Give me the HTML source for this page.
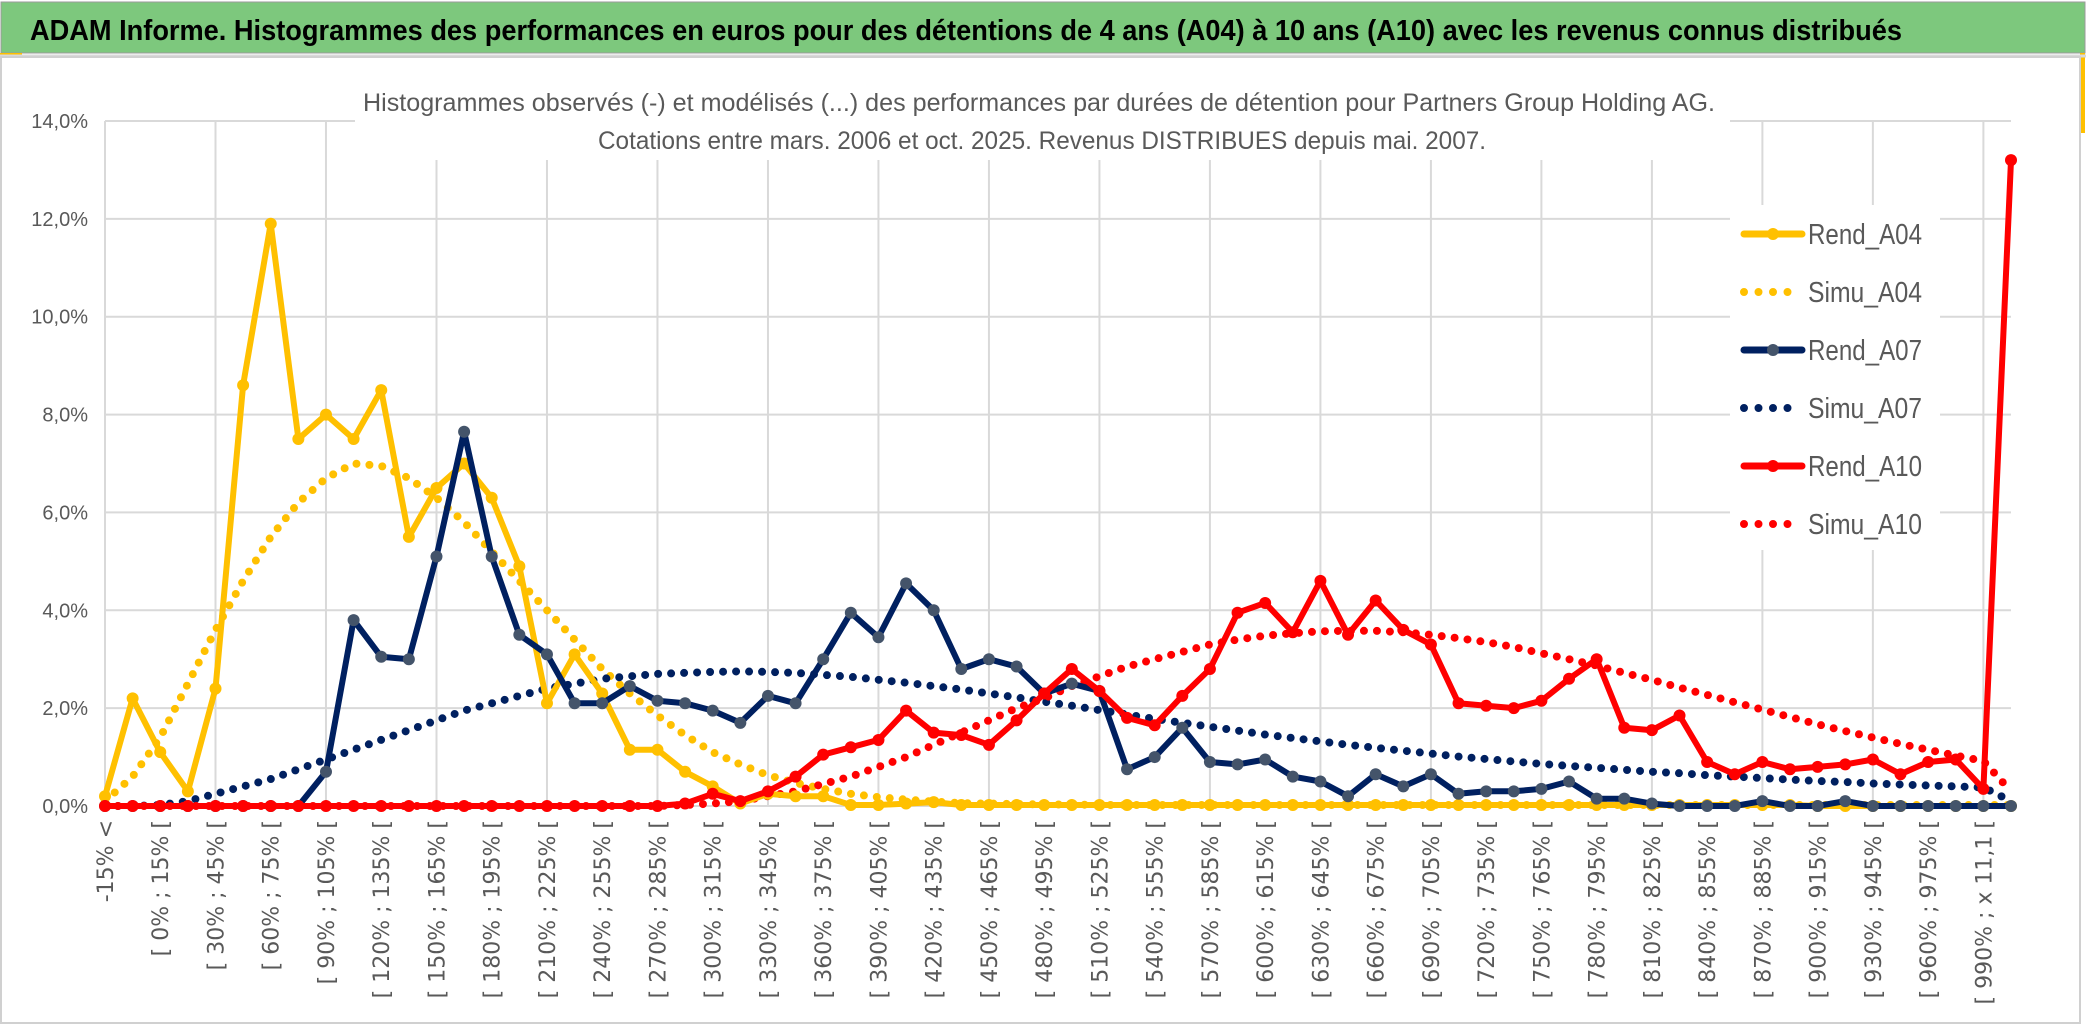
<!DOCTYPE html>
<html><head><meta charset="utf-8"><style>
html,body{margin:0;padding:0;background:#fff;}
svg{display:block;}
</style></head><body>
<svg id="chart" width="2086" height="1033" xmlns="http://www.w3.org/2000/svg">
<rect x="0" y="0" width="2086" height="1033" fill="#fff"/>
<rect x="1" y="2" width="2084" height="51" fill="#7dc87d" stroke="#9a9a9a" stroke-width="1"/>
<text x="30" y="40" font-family="'Liberation Sans Narrow','Liberation Sans',sans-serif" font-weight="bold" font-size="29" fill="#000" textLength="1872" lengthAdjust="spacingAndGlyphs">ADAM Informe. Histogrammes des performances en euros pour des détentions de 4 ans (A04) à 10 ans (A10) avec les revenus connus distribués</text>
<rect x="0" y="53" width="22" height="4" fill="#ffc000"/>
<rect x="2080" y="53" width="5" height="80" fill="#ffc000"/>
<line x1="0" y1="56" x2="2086" y2="56" stroke="#d9d9d9" stroke-width="3"/>
<rect x="1" y="57" width="2079" height="966" fill="none" stroke="#d0d0d0" stroke-width="2"/>
<g id="grid"></g>
<g id="series"></g>
<rect x="355" y="80" width="1375" height="80" fill="#fff"/>
<text x="1039" y="111" text-anchor="middle" font-family="'Liberation Sans Narrow','Liberation Sans',sans-serif" font-size="25" fill="#595959" textLength="1352" lengthAdjust="spacingAndGlyphs">Histogrammes observés (-) et modélisés (...) des performances par durées de détention pour Partners Group Holding AG.</text>
<text x="1042" y="149" text-anchor="middle" font-family="'Liberation Sans Narrow','Liberation Sans',sans-serif" font-size="25" fill="#595959" textLength="888" lengthAdjust="spacingAndGlyphs">Cotations entre mars. 2006 et oct. 2025. Revenus DISTRIBUES depuis mai. 2007.</text>
<g id="legend"></g>
<g id="yaxis"></g>
<g id="xaxis"></g>
</svg>
<script>
const catLabels = ["-15% <","[ -15% ; 0% [","[ 0% ; 15% [","[ 15% ; 30% [","[ 30% ; 45% [","[ 45% ; 60% [","[ 60% ; 75% [","[ 75% ; 90% [","[ 90% ; 105% [","[ 105% ; 120% [","[ 120% ; 135% [","[ 135% ; 150% [","[ 150% ; 165% [","[ 165% ; 180% [","[ 180% ; 195% [","[ 195% ; 210% [","[ 210% ; 225% [","[ 225% ; 240% [","[ 240% ; 255% [","[ 255% ; 270% [","[ 270% ; 285% [","[ 285% ; 300% [","[ 300% ; 315% [","[ 315% ; 330% [","[ 330% ; 345% [","[ 345% ; 360% [","[ 360% ; 375% [","[ 375% ; 390% [","[ 390% ; 405% [","[ 405% ; 420% [","[ 420% ; 435% [","[ 435% ; 450% [","[ 450% ; 465% [","[ 465% ; 480% [","[ 480% ; 495% [","[ 495% ; 510% [","[ 510% ; 525% [","[ 525% ; 540% [","[ 540% ; 555% [","[ 555% ; 570% [","[ 570% ; 585% [","[ 585% ; 600% [","[ 600% ; 615% [","[ 615% ; 630% [","[ 630% ; 645% [","[ 645% ; 660% [","[ 660% ; 675% [","[ 675% ; 690% [","[ 690% ; 705% [","[ 705% ; 720% [","[ 720% ; 735% [","[ 735% ; 750% [","[ 750% ; 765% [","[ 765% ; 780% [","[ 780% ; 795% [","[ 795% ; 810% [","[ 810% ; 825% [","[ 825% ; 840% [","[ 840% ; 855% [","[ 855% ; 870% [","[ 870% ; 885% [","[ 885% ; 900% [","[ 900% ; 915% [","[ 915% ; 930% [","[ 930% ; 945% [","[ 945% ; 960% [","[ 960% ; 975% [","[ 975% ; 990% [","[ 990% ; x 11,1 [","> x 11,1"];
const yTicks = [0,2,4,6,8,10,12,14];
const yTickLabels = ["0,0%","2,0%","4,0%","6,0%","8,0%","10,0%","12,0%","14,0%"];
const rendA04 = [0.2,2.2,1.1,0.3,2.4,8.6,11.9,7.5,8.0,7.5,8.5,5.5,6.5,7.0,6.3,4.9,2.1,3.1,2.3,1.15,1.15,0.7,0.4,0.05,0.25,0.2,0.2,0.02,0.02,0.05,0.08,0.02,0.02,0.02,0.02,0.02,0.02,0.02,0.02,0.02,0.02,0.02,0.02,0.02,0.02,0.02,0.02,0.02,0.02,0.02,0.02,0.02,0.02,0.02,0.02,0.02,0.02,0.02,0.02,0.02,0.02,0.02,0,0,0,0,0,0,0,0];
const simuA04 = [0.1,0.6,1.4,2.5,3.6,4.6,5.5,6.2,6.7,7.0,6.95,6.7,6.3,5.8,5.2,4.6,4.0,3.4,2.8,2.3,1.85,1.45,1.1,0.85,0.63,0.47,0.35,0.25,0.18,0.13,0.09,0.06,0.05,0.04,0.03,0.03,0.02,0.02,0.02,0.02,0.02,0.02,0.02,0.02,0.02,0.02,0.02,0.02,0.02,0.02,0.02,0.02,0.02,0.02,0.02,0.02,0.02,0.02,0.02,0.02,0.02,0.02,0.02,0.02,0.02,0.02,0.02,0.02,0.02,0.02];
const rendA07 = [0,0,0,0,0,0,0,0,0.7,3.8,3.05,3.0,5.1,7.65,5.1,3.5,3.1,2.1,2.1,2.45,2.15,2.1,1.95,1.7,2.25,2.1,3.0,3.95,3.45,4.55,4.0,2.8,3.0,2.85,2.3,2.5,2.35,0.75,1.0,1.6,0.9,0.85,0.95,0.6,0.5,0.2,0.65,0.4,0.65,0.25,0.3,0.3,0.35,0.5,0.15,0.15,0.05,0,0,0,0.1,0,0,0.1,0,0,0,0,0,0];
const simuA07 = [0,0,0.02,0.1,0.25,0.4,0.55,0.75,0.95,1.15,1.35,1.55,1.75,1.95,2.1,2.25,2.4,2.5,2.6,2.65,2.7,2.72,2.74,2.75,2.74,2.72,2.68,2.64,2.58,2.52,2.45,2.38,2.3,2.22,2.13,2.05,1.96,1.87,1.78,1.7,1.62,1.54,1.46,1.39,1.32,1.25,1.19,1.13,1.07,1.01,0.96,0.91,0.86,0.82,0.78,0.74,0.7,0.67,0.63,0.6,0.57,0.54,0.51,0.49,0.46,0.44,0.42,0.4,0.38,0.1];
const rendA10 = [0,0,0,0,0,0,0,0,0,0,0,0,0,0,0,0,0,0,0,0,0,0.05,0.25,0.1,0.3,0.6,1.05,1.2,1.35,1.95,1.5,1.45,1.25,1.75,2.3,2.8,2.35,1.8,1.65,2.25,2.8,3.95,4.15,3.55,4.6,3.5,4.2,3.6,3.3,2.1,2.05,2.0,2.15,2.6,3.0,1.6,1.55,1.85,0.9,0.65,0.9,0.75,0.8,0.85,0.95,0.65,0.9,0.95,0.35,13.2];
const simuA10 = [0,0,0,0,0,0,0,0,0,0,0,0,0,0,0,0,0,0,0,0,0,0.02,0.05,0.1,0.2,0.3,0.45,0.6,0.8,1.0,1.25,1.5,1.75,2.0,2.2,2.45,2.65,2.85,3.0,3.15,3.3,3.4,3.48,3.53,3.57,3.58,3.58,3.55,3.5,3.43,3.35,3.25,3.12,3.0,2.87,2.72,2.58,2.42,2.27,2.12,1.97,1.82,1.67,1.53,1.4,1.27,1.15,1.03,0.92,0.3];

const NS="http://www.w3.org/2000/svg";
const X0=105, X1=2011, Y0=806, Y14=121;
const n=catLabels.length;
function xs(i){return X0+(X1-X0)*i/(n-1);}
function ys(v){return Y0-(Y0-Y14)*v/14;}
function mk(tag,attrs,parent){const e=document.createElementNS(NS,tag);for(const k in attrs)e.setAttribute(k,attrs[k]);parent.appendChild(e);return e;}

const grid=document.getElementById('grid');
yTicks.forEach((t,i)=>{
  const l=mk('line',{x1:X0,x2:X1,y1:ys(t),y2:ys(t),stroke:'#d9d9d9','stroke-width':2},grid);
  
  
});
for(let i=0;i<n;i+=4){
  const l=mk('line',{x1:xs(i),x2:xs(i),y1:Y14,y2:Y0,stroke:'#d9d9d9','stroke-width':2},grid);
  
  
}
const yax=document.getElementById('yaxis');
yTicks.forEach((t,i)=>{
  const tx=mk('text',{x:88,y:ys(t)+7,'text-anchor':'end','font-family':"'Liberation Sans Narrow','Liberation Sans',sans-serif",'font-size':20,fill:'#595959'},yax);
  tx.textContent=yTickLabels[i];
  
  
});
const xax=document.getElementById('xaxis');
for(let i=0;i<n;i+=2){
  const x=xs(i)+8, y=820;
  const tx=mk('text',{x:x,y:y,transform:`rotate(-90 ${x} ${y})`,'text-anchor':'end','font-family':"'DejaVu Sans',sans-serif",'font-size':22,fill:'#595959'},xax);
  tx.textContent=catLabels[i];
  
  
}
const ser=document.getElementById('series');
function pathOf(arr){return arr.map((v,i)=>(i?'L':'M')+xs(i).toFixed(1)+' '+ys(v).toFixed(1)).join(' ');}
function dotted(arr,color,name){
  const p=mk('path',{d:pathOf(arr),fill:'none',stroke:color,'stroke-width':8,'stroke-linecap':'round','stroke-dasharray':'0 13'},ser);
  
  
}
function solid(arr,color,mcolor,name){
  const g=mk('g',{},ser);
  
  
  mk('path',{d:pathOf(arr),fill:'none',stroke:color,'stroke-width':6,'stroke-linejoin':'round'},g);
  arr.forEach((v,i)=>{
    const c=mk('circle',{cx:xs(i),cy:ys(v),r:6,fill:mcolor},g);
    
    
  });
}
dotted(simuA04,'#ffc000','simu-a04-line');
dotted(simuA07,'#002060','simu-a07-line');
dotted(simuA10,'#ff0000','simu-a10-line');
solid(rendA04,'#ffc000','#ffc000','rend-a04-line');
solid(rendA07,'#002060','#44546a','rend-a07-line');
solid(rendA10,'#ff0000','#ff0000','rend-a10-line');

const leg=document.getElementById('legend');
mk('rect',{x:1730,y:205,width:210,height:345,fill:'#fff'},leg);
const legItems=[["Rend_A04",'#ffc000','#ffc000',false],["Simu_A04",'#ffc000',null,true],["Rend_A07",'#002060','#44546a',false],["Simu_A07",'#002060',null,true],["Rend_A10",'#ff0000','#ff0000',false],["Simu_A10",'#ff0000',null,true]];
legItems.forEach((it,k)=>{
  const y=234+k*58;
  const g=mk('g',{},leg);
  
  
  if(it[3]){
    mk('line',{x1:1744,x2:1802,y1:y,y2:y,stroke:it[1],'stroke-width':8,'stroke-linecap':'round','stroke-dasharray':'0 14.5'},g);
  }else{
    mk('line',{x1:1744,x2:1802,y1:y,y2:y,stroke:it[1],'stroke-width':7,'stroke-linecap':'round'},g);
    mk('circle',{cx:1773,cy:y,r:6,fill:it[2]},g);
  }
  const t=mk('text',{x:1808,y:y+10,'font-family':"'Liberation Sans Narrow','Liberation Sans',sans-serif",'font-size':29,fill:'#595959',textLength:114,lengthAdjust:'spacingAndGlyphs'},g);
  t.textContent=it[0];
});
</script>
</body></html>
